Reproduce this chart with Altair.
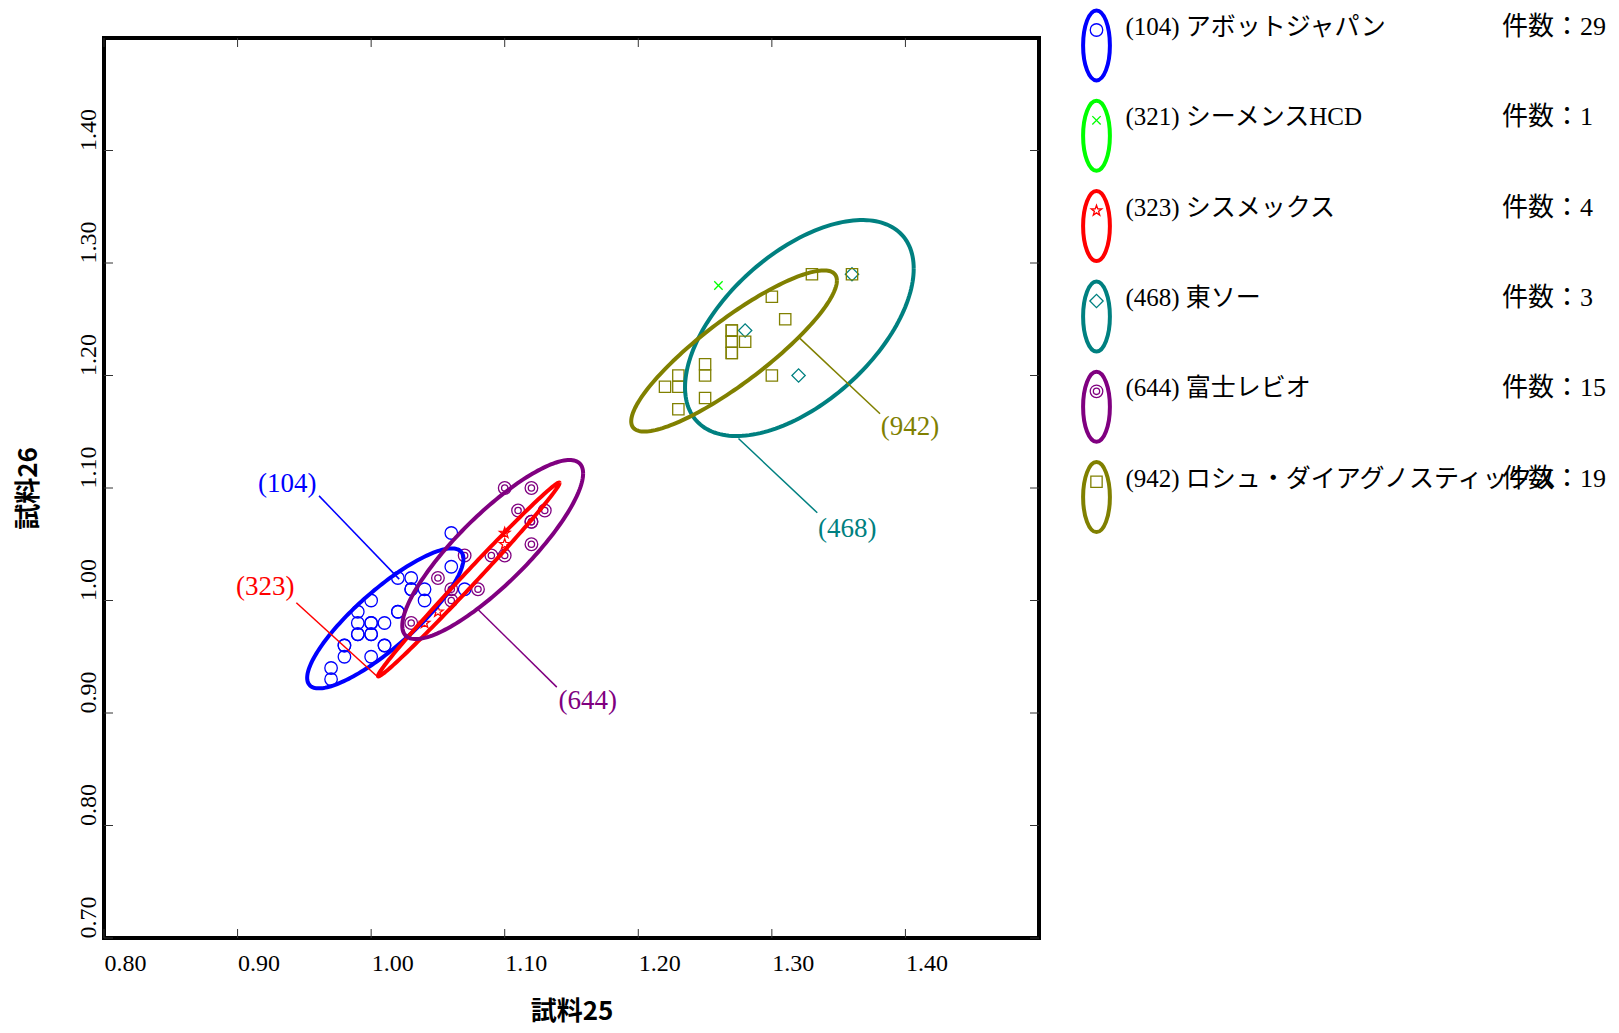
import numpy as np
import pandas as pd
import altair as alt

# ---------------- data ----------------
groups = ["104", "321", "323", "468", "644", "942"]
legend_names = ["(104) アボットジャパン", "(321) シーメンスHCD", "(323) シスメックス",
                "(468) 東ソー", "(644) 富士レビオ", "(942) ロシュ・ダイアグノスティックス"]
counts = [29, 1, 4, 3, 15, 19]
colors = ["#0000ff", "#00ff00", "#ff0000", "#008080", "#800080", "#808000"]

x_104 = [1.06, 1.06, 1.07, 1.02, 1.03, 1.03, 1.04, 1.04, 1.00, 1.02, 0.99, 0.99, 1.00, 1.01,
         0.99, 1.00, 1.01, 0.98, 0.98, 1.00, 0.97, 0.97,
         0.99, 1.00, 0.98, 1.00, 1.03, 1.02, 1.01]
y_104 = [1.06, 1.03, 1.01, 1.02, 1.02, 1.01, 1.01, 1.00, 1.00, 0.99, 0.99, 0.98, 0.98, 0.98,
         0.97, 0.97, 0.96, 0.96, 0.95, 0.95, 0.94, 0.93,
         0.97, 0.97, 0.96, 0.98, 1.01, 0.99, 0.96]
x_321 = [1.26]
y_321 = [1.28]
x_323 = [1.04, 1.05, 1.10, 1.10]
y_323 = [0.98, 0.99, 1.05, 1.06]
x_468 = [1.28, 1.32, 1.36]
y_468 = [1.24, 1.20, 1.29]
x_644 = [1.10, 1.12, 1.11, 1.13, 1.12, 1.12, 1.09, 1.10, 1.07, 1.05, 1.06, 1.08, 1.06, 1.03, 1.12]
y_644 = [1.10, 1.10, 1.08, 1.08, 1.07, 1.05, 1.04, 1.04, 1.04, 1.02, 1.01, 1.01, 1.00, 0.98, 1.07]
x_942 = [1.33, 1.30, 1.31, 1.27, 1.27, 1.28, 1.27, 1.25, 1.25, 1.30, 1.23, 1.22, 1.23, 1.25,
         1.23, 1.36, 1.27, 1.27, 1.27]
y_942 = [1.29, 1.27, 1.25, 1.24, 1.23, 1.23, 1.22, 1.21, 1.20, 1.20, 1.20, 1.19, 1.19, 1.18,
         1.17, 1.29, 1.23, 1.22, 1.24]

xs_by_group = [x_104, x_321, x_323, x_468, x_644, x_942]
ys_by_group = [y_104, y_321, y_323, y_468, y_644, y_942]

# probability ellipses (centre, half extents, correlation)
ell_groups = ["104", "323", "468", "644", "942"]
ell_cx = [1.0106, 1.0731, 1.3206, 1.0910, 1.2717]
ell_cy = [0.9841, 1.0187, 1.2422, 1.0453, 1.2218]
ell_hx = [0.0585, 0.0680, 0.0856, 0.0677, 0.0770]
ell_hy = [0.0622, 0.0862, 0.0960, 0.0796, 0.0716]
ell_r = [0.85, 0.995, 0.55, 0.85, 0.873]

# call-out labels and leader lines
ann_groups = ["104", "323", "644", "468", "942"]
ann_labels = ["(104)", "(323)", "(644)", "(468)", "(942)"]
ann_lx = [0.9371, 0.9208, 1.1622, 1.3564, 1.4035]
ann_ly = [1.1034, 1.0116, 0.9106, 1.0639, 1.1538]
ann_x1 = [0.961, 0.944, 1.139, 1.334, 1.381]
ann_y1 = [1.093, 0.998, 0.923, 1.078, 1.166]
ann_x2 = [1.021, 1.005, 1.080, 1.275, 1.321]
ann_y2 = [1.019, 0.932, 0.992, 1.144, 1.233]

x_ticks = [0.80, 0.90, 1.00, 1.10, 1.20, 1.30, 1.40]
y_ticks = [0.70, 0.80, 0.90, 1.00, 1.10, 1.20, 1.30, 1.40]

# ---------------- layout / styles ----------------
W, H = 935, 900
SERIF = "Liberation Serif"
JP = "Liberation Serif, Noto Sans CJK JP"


def circle_path(r):
    k = 0.5523 * r
    return (f"M{r:.4f},0 C{r:.4f},{k:.4f} {k:.4f},{r:.4f} 0,{r:.4f} "
            f"C{-k:.4f},{r:.4f} {-r:.4f},{k:.4f} {-r:.4f},0 "
            f"C{-r:.4f},{-k:.4f} {-k:.4f},{-r:.4f} 0,{-r:.4f} "
            f"C{k:.4f},{-r:.4f} {r:.4f},{-k:.4f} {r:.4f},0 Z")


def ellipse_path(rx, ry):
    kx, ky = 0.5523 * rx, 0.5523 * ry
    return (f"M0,{-ry:.4f} C{kx:.4f},{-ry:.4f} {rx:.4f},{-ky:.4f} {rx:.4f},0 "
            f"C{rx:.4f},{ky:.4f} {kx:.4f},{ry:.4f} 0,{ry:.4f} "
            f"C{-kx:.4f},{ry:.4f} {-rx:.4f},{ky:.4f} {-rx:.4f},0 "
            f"C{-rx:.4f},{-ky:.4f} {-kx:.4f},{-ry:.4f} 0,{-ry:.4f} Z")


def star_path():
    pts = []
    for i in range(10):
        a = -np.pi / 2 + i * np.pi / 5
        rr = 1.0 if i % 2 == 0 else 0.40
        pts.append(f"{rr*np.cos(a):.4f},{rr*np.sin(a):.4f}")
    return "M" + " L".join(pts) + " Z"


x_path = "M-1,-1 L1,1 M-1,1 L1,-1"
shapes = ["circle", x_path, star_path(), "diamond", circle_path(1.0) + " " + circle_path(0.5), "square"]
sizes = [156, 70, 121, 177, 159, 128]

xax = alt.Axis(values=x_ticks, format=".2f", labelAlign="left", labelBaseline="top",
               labelPadding=13, labelFont=SERIF, labelFontSize=24, labelColor="black",
               labelFlush=False, labelOverlap=False, ticks=False, tickSize=0, domain=False,
               grid=False, title="試料25", titleFont="Noto Sans CJK JP", titleFontSize=26,
               titleFontWeight="bold", titleColor="black", titleX=W / 2, titleY=73,
               titleAlign="center", titleBaseline="middle")
yax = alt.Axis(values=y_ticks, format=".2f", labelAngle=270, labelAlign="left",
               labelBaseline="alphabetic", labelPadding=9, labelFont=SERIF, labelFontSize=24,
               labelColor="black", labelFlush=False, labelOverlap=False, ticks=False,
               tickSize=0, domain=False, grid=False, title="試料26",
               titleFont="Noto Sans CJK JP", titleFontSize=26, titleFontWeight="bold",
               titleColor="black", titleAngle=270, titleX=-76, titleY=H / 2,
               titleAlign="center", titleBaseline="middle")

xs = alt.Scale(domain=[0.8, 1.5], nice=False, zero=False)
ys = alt.Scale(domain=[0.7, 1.5], nice=False, zero=False)
cs = alt.Scale(domain=groups, range=colors)


def X(f):
    return alt.X(f, type="quantitative", scale=xs, axis=xax)


def Y(f):
    return alt.Y(f, type="quantitative", scale=ys, axis=yax)


# ---------------- tables ----------------
t = np.linspace(0, 2 * np.pi, 181)
ell_rows = []
for g, cx, cy, hx, hy, r in zip(ell_groups, ell_cx, ell_cy, ell_hx, ell_hy, ell_r):
    for i, tt in enumerate(t):
        ell_rows.append({"group": g, "i": i,
                         "x": cx + hx * np.cos(tt),
                         "y": cy + hy * (r * np.cos(tt) + np.sqrt(1 - r * r) * np.sin(tt))})
ell_df = pd.DataFrame(ell_rows)

ann_df = pd.DataFrame({"group": ann_groups, "label": ann_labels, "lx": ann_lx, "ly": ann_ly,
                       "x1": ann_x1, "y1": ann_y1, "x2": ann_x2, "y2": ann_y2})
xt_df = pd.DataFrame({"v": x_ticks})
yt_df = pd.DataFrame({"v": y_ticks})

# ---------------- main plot ----------------
tick_color = "#333333"
layers = [
    alt.Chart(xt_df).mark_rule(color=tick_color, strokeWidth=1).encode(
        x=X("v"), y=alt.value(H), y2=alt.value(H - 9)),
    alt.Chart(xt_df).mark_rule(color=tick_color, strokeWidth=1).encode(
        x=X("v"), y=alt.value(0), y2=alt.value(9)),
    alt.Chart(yt_df).mark_rule(color=tick_color, strokeWidth=1).encode(
        y=Y("v"), x=alt.value(0), x2=alt.value(9)),
    alt.Chart(yt_df).mark_rule(color=tick_color, strokeWidth=1).encode(
        y=Y("v"), x=alt.value(W), x2=alt.value(W - 9)),
]

for g, gx, gy, shp, sz, col in zip(groups, xs_by_group, ys_by_group, shapes, sizes, colors):
    df = pd.DataFrame({"x": gx, "y": gy})
    layers.append(alt.Chart(df).mark_point(shape=shp, size=sz, color=col, filled=False,
                                           opacity=1, strokeWidth=1.3).encode(
        x=X("x"), y=Y("y")))

layers.append(alt.Chart(ell_df).mark_line(strokeWidth=4).encode(
    x=X("x"), y=Y("y"), color=alt.Color("group:N", scale=cs, legend=None),
    order=alt.Order("i:Q")))
layers.append(alt.Chart(ann_df).mark_rule(strokeWidth=1.5).encode(
    x=X("x1"), y=Y("y1"), x2=alt.X2("x2"), y2=alt.Y2("y2"),
    color=alt.Color("group:N", scale=cs, legend=None)))
layers.append(alt.Chart(ann_df).mark_text(font=SERIF, fontSize=27, align="center",
                                          baseline="middle").encode(
    x=X("lx"), y=Y("ly"), text="label:N", color=alt.Color("group:N", scale=cs, legend=None)))

main = alt.layer(*layers)

# ---------------- legend ----------------
LX_ELL = 992.5
LX_TXT = 1021.4
LX_CNT = 1398
ROW0, ROWSTEP = 7.4, 90.34
rows = list(range(len(groups)))
leg_df = pd.DataFrame({"group": groups, "row": rows, "name": legend_names,
                       "cnt": [f"件数：{c}" for c in counts]})
ry = alt.Scale(domain=[0, 5], range=[ROW0, ROW0 + 5 * ROWSTEP], nice=False, zero=False)
LY = alt.Y("row:Q", scale=ry, axis=None)

leg_layers = [
    alt.Chart(leg_df).mark_point(shape=ellipse_path(0.383, 1.0), size=4900, filled=False,
                                 opacity=1, strokeWidth=4).encode(
        x=alt.value(LX_ELL), y=LY, color=alt.Color("group:N", scale=cs, legend=None)),
    alt.Chart(leg_df).mark_text(font=JP, fontSize=25, align="left", baseline="middle",
                                dy=-18.5, color="black").encode(
        x=alt.value(LX_TXT), y=LY, text="name:N"),
    alt.Chart(leg_df).mark_text(font=JP, fontSize=26, align="left", baseline="middle",
                                dy=-18.5, color="black").encode(
        x=alt.value(LX_CNT), y=LY, text="cnt:N"),
]
for g, shp, sz, col in zip(groups, shapes, sizes, colors):
    one = leg_df[leg_df["group"] == g]
    leg_layers.append(alt.Chart(one).mark_point(shape=shp, size=sz, color=col, filled=False,
                                                opacity=1, strokeWidth=1.3, yOffset=-15.4).encode(
        x=alt.value(LX_ELL), y=LY))

legend = alt.layer(*leg_layers)

chart = alt.layer(main, legend).resolve_scale(y="independent").properties(
    width=W, height=H,
    padding={"left": 96, "top": 30, "right": 572, "bottom": 87},
    autosize=alt.AutoSizeParams(type="none"),
    background="white",
).configure_view(stroke="black", strokeWidth=4)

chart.save("out.html", embed_options={"renderer": "svg", "actions": False})
